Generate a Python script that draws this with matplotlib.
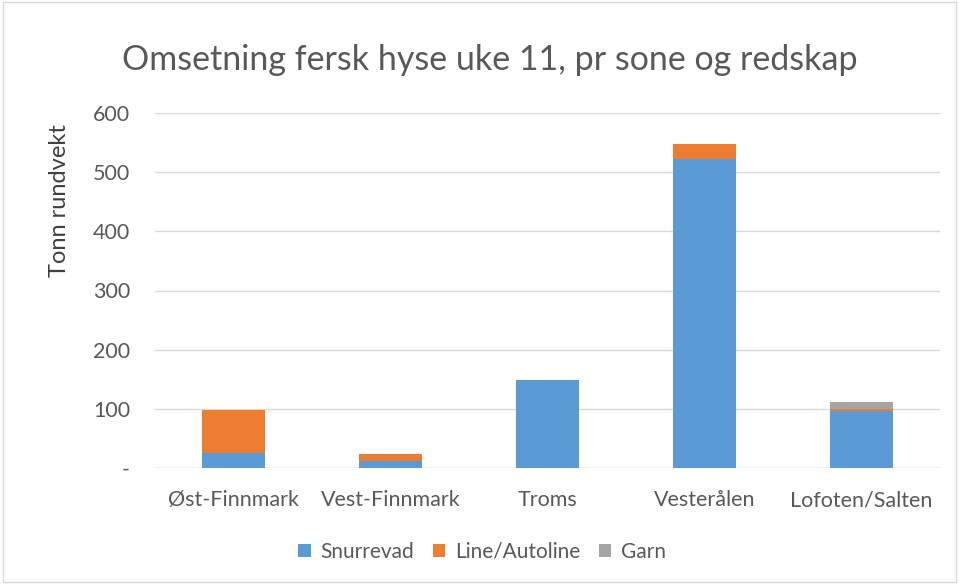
import matplotlib
matplotlib.use("Agg")
import matplotlib.pyplot as plt
import numpy as np

plt.rcParams['font.family'] = ['Lato', 'DejaVu Sans']

categories = ["Øst-Finnmark", "Vest-Finnmark", "Troms", "Vesterålen", "Lofoten/Salten"]
snurrevad = [26, 11, 148, 522, 97]
line_autoline = [72, 12, 1, 26, 2]
garn = [0, 0, 0, 0, 13]
series_names = ["Snurrevad", "Line/Autoline", "Garn"]
colors = ["#5b9bd5", "#ed7d31", "#a5a5a5"]
yticks = [0, 100, 200, 300, 400, 500, 600]
ytick_labels = ["-", "100", "200", "300", "400", "500", "600"]

fig = plt.figure(figsize=(9.59, 5.84), dpi=100)
ax = fig.add_axes([155/959, 1-468/584, 785/959, 355/584])

x = np.arange(len(categories))
w = 0.4
bottom = np.zeros(len(categories))
for name, vals, c in zip(series_names, [snurrevad, line_autoline, garn], colors):
    ax.bar(x, vals, w, bottom=bottom, color=c, label=name, zorder=3)
    bottom += np.array(vals)

ax.set_xlim(-0.5, len(categories)-0.5)
ax.set_ylim(0, 600)
ax.set_yticks(yticks)
ax.set_yticklabels(ytick_labels)
ax.set_xticks(x)
ax.set_xticklabels(categories)
ax.grid(axis='y', color='#d9d9d9', linewidth=1, zorder=0)
for s in ax.spines.values():
    s.set_visible(False)
ax.tick_params(axis='both', length=0, colors='#595959', labelsize=15.5)
ax.tick_params(axis='y', pad=18)
ax.tick_params(axis='x', pad=16)
ax.axhline(0, color='#d9d9d9', linewidth=1, zorder=2)

fig.text(60/959, 1-201/584, "Tonn rundvekt", rotation=90, ha='center', va='center',
         fontsize=17, color='#404040')

fig.text(490/959, 1-60/584, "Omsetning fersk hyse uke 11, pr sone og redskap",
         ha='center', va='center', fontsize=24.5, color='#595959')

leg = fig.legend(loc='center', bbox_to_anchor=(482/959, 1-552/584), ncol=3,
                 frameon=False, fontsize=15, handlelength=0.6, handleheight=0.6,
                 columnspacing=0.9, handletextpad=0.45)
for t in leg.get_texts():
    t.set_color('#595959')

border = plt.Rectangle((0.003, 0.003), 0.994, 0.994, transform=fig.transFigure,
                       fill=False, edgecolor='#d9d9d9', linewidth=1)
fig.patches.append(border)

fig.savefig("out.png", dpi=100)
